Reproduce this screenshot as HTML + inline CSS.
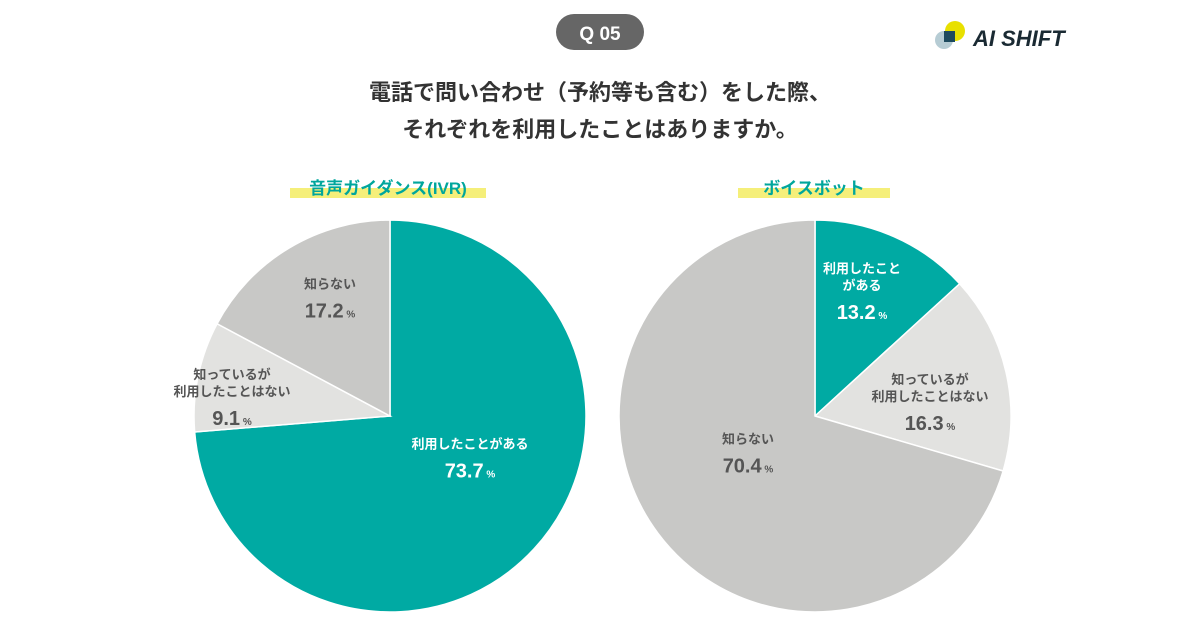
<!DOCTYPE html>
<html><head><meta charset="utf-8"><style>
body{margin:0;width:1200px;height:630px;background:#fff;overflow:hidden;font-family:"Liberation Sans","Noto Sans CJK JP",sans-serif;}
svg{position:absolute;left:0;top:0}
</style></head><body>
<svg id="s" width="1200" height="630">
<rect x="556" y="14" width="88" height="36" rx="18" fill="#666"/>
<text x="600" y="40" text-anchor="middle" font-size="19" font-weight="bold" fill="#fff">Q 05</text>
<g>
<circle cx="944" cy="40" r="9" fill="#a9c3cc" opacity="0.85"/>
<circle cx="955" cy="31" r="10" fill="#e8e000"/>
<rect x="944" y="31" width="11" height="11" fill="#1d4a5e"/>
<text x="973" y="46" font-size="22" font-weight="bold" font-style="italic" fill="#1a2a33">AI SHIFT</text>
</g>
<text x="600" y="100" text-anchor="middle" font-size="22" font-weight="bold" fill="#333">電話で問い合わせ（予約等も含む）をした際、</text>
<text x="600" y="137" text-anchor="middle" font-size="22" font-weight="bold" fill="#333">それぞれを利用したことはありますか。</text>
<rect x="290" y="188" width="196" height="10" fill="#f5ef7a"/>
<text x="388" y="194" text-anchor="middle" font-size="17" font-weight="bold" fill="#00a69c">音声ガイダンス(IVR)</text>
<rect x="738" y="188" width="152" height="10" fill="#f5ef7a"/>
<text x="814" y="194" text-anchor="middle" font-size="17" font-weight="bold" fill="#00a69c">ボイスボット</text>
<g id="pies"></g>
</svg>
<script>
const leftCategories=["利用したことがある","知っているが\n利用したことはない","知らない"];
const leftValues=[73.7,9.1,17.2];
const rightCategories=["利用したこと\nがある","知っているが\n利用したことはない","知らない"];
const rightValues=[13.2,16.3,70.4];
const colors=["#00aaa3","#e2e2e0","#c8c8c6"];
const NS="http://www.w3.org/2000/svg";
const g=document.getElementById('pies');
function mk(t,a){const e=document.createElementNS(NS,t);for(const k in a)e.setAttribute(k,a[k]);g.appendChild(e);return e;}
function pie(cx,cy,r,cats,vals,prefix,offs){
  const tot=vals.reduce((a,b)=>a+b,0);let a0=0;
  vals.forEach((v,i)=>{
    const a1=a0+v/tot*2*Math.PI;
    const x0=cx+r*Math.sin(a0),y0=cy-r*Math.cos(a0),x1=cx+r*Math.sin(a1),y1=cy-r*Math.cos(a1);
    const p=mk('path',{d:`M${cx},${cy}L${x0},${y0}A${r},${r} 0 ${a1-a0>Math.PI?1:0} 1 ${x1},${y1}Z`,fill:colors[i],stroke:'#fff','stroke-width':1.5});
    
    
    const lx=cx+offs[i][0],ly=cy+offs[i][1];
    const lines=cats[i].split('\n');const col=i==0?'#fff':'#555';
    const top=ly-(lines.length*17+26)/2;
    lines.forEach((ln,j)=>{const t=mk('text',{x:lx,y:top+j*17+12,'text-anchor':'middle','font-size':13,'font-weight':'bold',fill:col});t.textContent=ln;
      
      });
    const t=mk('text',{x:lx,y:top+lines.length*17+24,'text-anchor':'middle','font-size':20,'font-weight':'bold',fill:col});
    t.textContent=v.toFixed(1);
    const ts=document.createElementNS(NS,'tspan');ts.setAttribute('font-size','10');ts.textContent=' %';t.appendChild(ts);
    
    
    a0=a1;
  });
}
pie(390,416,196,leftCategories,leftValues,'ivr',[[80,42],[-158,-19],[-60,-118]]);
pie(815,416,196,rightCategories,rightValues,'voicebot',[[47,-125],[115,-14],[-67,37]]);
</script>
</body></html>
